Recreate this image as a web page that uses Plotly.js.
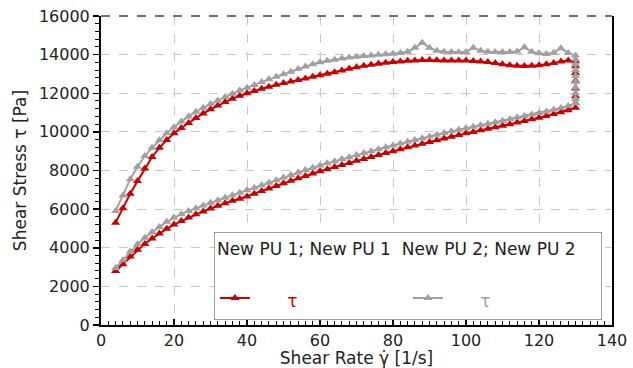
<!DOCTYPE html>
<html>
<head>
<meta charset="utf-8">
<script src="https://cdn.plot.ly/plotly-3.0.1.min.js"></script>
<style>html,body{margin:0;padding:0;background:#fff;}#chart{width:633px;height:368px;}</style>
</head>
<body>
<div id="chart"></div>
<script>
// Shear rate ramp [1/s]
const shearRate = [4,6,8,10,12,14,16,18,20,22,24,26,28,30,32,34,36,38,40,42,44,46,48,50,52,54,56,58,60,62,64,66,68,70,72,74,76,78,80,82,84,86,88,90,92,94,96,98,100,102,104,106,108,110,112,114,116,118,120,122,124,126,128,130];

// New PU 1 (red): up-ramp stress, hold at max rate, down-ramp stress (listed in shearRate order)
const pu1UpStress = [2800,3150,3550,3900,4200,4480,4740,4980,5200,5380,5560,5730,5880,6030,6170,6300,6430,6540,6660,6800,6940,7070,7200,7340,7470,7600,7720,7840,7960,8070,8180,8290,8390,8500,8600,8700,8800,8900,9000,9100,9200,9290,9380,9470,9560,9660,9750,9840,9930,10000,10080,10160,10240,10320,10400,10480,10560,10650,10730,10820,10920,11020,11120,11250];
const pu1HoldRate = [130,130,130,130,130,130];
const pu1HoldStress = [11500,11850,12250,12650,13050,13400];
const pu1DownStress = [5300,6050,6800,7450,8100,8700,9180,9580,9930,10200,10460,10720,10950,11170,11370,11550,11720,11870,12000,12120,12230,12340,12440,12530,12610,12690,12770,12850,12930,13010,13090,13180,13270,13350,13420,13480,13530,13580,13620,13650,13680,13700,13720,13720,13710,13700,13700,13700,13690,13670,13650,13620,13560,13500,13450,13420,13410,13420,13450,13500,13560,13650,13700,13660];

// New PU 2 (gray)
const pu2UpStress = [2950,3350,3800,4180,4520,4820,5080,5340,5560,5740,5900,6050,6190,6330,6460,6590,6720,6850,6980,7110,7240,7370,7500,7640,7770,7900,8020,8140,8260,8370,8480,8590,8690,8800,8900,9000,9100,9200,9300,9400,9490,9580,9670,9760,9850,9940,10030,10110,10190,10260,10340,10420,10500,10580,10660,10740,10820,10900,10980,11060,11150,11240,11340,11480];
const pu2HoldRate = [130,130,130,130,130,130,130,130];
const pu2HoldStress = [11700,12000,12300,12600,12900,13200,13500,13750];
const pu2DownStress = [5900,6700,7550,8200,8750,9180,9560,9930,10240,10540,10800,11040,11250,11440,11620,11800,11980,12140,12290,12430,12580,12720,12850,12980,13110,13250,13380,13500,13600,13680,13740,13800,13850,13890,13930,13960,13990,14020,14050,14080,14150,14350,14620,14350,14200,14150,14130,14120,14130,14350,14200,14150,14140,14130,14130,14160,14380,14150,14070,14030,14100,14330,14080,13950];

const xTickVals = [0,20,40,60,80,100,120,140];
const yTickVals = [0,2000,4000,6000,8000,10000,12000,14000,16000];

const seriesNames = ['New PU 1; New PU 1', 'New PU 2; New PU 2'];
const seriesColors = ['#cc0000', '#a0a0a0'];

function loop(up, holdRate, hold, down) {
  const x = shearRate.concat(holdRate, shearRate.slice().reverse());
  const y = up.concat(hold, down.slice().reverse());
  return {x: x, y: y};
}

const pad = '<span style="font-size:17px">\u00a0\u00a0\u00a0\u00a0\u00a0\u00a0</span>';
function legendName(c) {
  return pad + '<span style="color:' + c + ';font-size:17px">τ</span>';
}
const d1 = loop(pu1UpStress, pu1HoldRate, pu1HoldStress, pu1DownStress);
const d2 = loop(pu2UpStress, pu2HoldRate, pu2HoldStress, pu2DownStress);

const traces = [
  {x: d1.x, y: d1.y, type: 'scatter', mode: 'lines+markers',
   name: legendName(seriesColors[0]),
   line: {color: seriesColors[0], width: 2},
   marker: {symbol: 'triangle-up', size: 8, color: seriesColors[0]}},
  {x: d2.x, y: d2.y, type: 'scatter', mode: 'lines+markers',
   name: legendName(seriesColors[1]),
   line: {color: seriesColors[1], width: 2},
   marker: {symbol: 'triangle-up', size: 8, color: seriesColors[1]}}
];

const FONT = 'DejaVu Sans, Arial, sans-serif';

const layout = {
  width: 633, height: 368,
  margin: {l: 101, r: 21, t: 16, b: 43, pad: 0},
  paper_bgcolor: '#ffffff', plot_bgcolor: '#ffffff',
  font: {family: FONT, size: 16, color: '#222'},
  showlegend: true,
  legend: {
    x: 0.221, xanchor: 'left', y: 0.301, yanchor: 'top',
    orientation: 'h',
    entrywidth: 148, entrywidthmode: 'pixels',
    bgcolor: '#ffffff', bordercolor: '#a0a0a0', borderwidth: 1,
    font: {family: FONT, size: 22, color: '#222'},
    title: {text: seriesNames[0] + '\u00a0\u00a0' + seriesNames[1] + '<br>\u00a0', side: 'top', font: {family: FONT, size: 17, color: '#222'}}
  },
  xaxis: {
    range: [0, 140], tickvals: xTickVals, ticktext: xTickVals.map(String),
    showline: true, linecolor: '#000', linewidth: 2,
    ticks: 'inside', ticklen: 6, tickcolor: '#000', tickwidth: 1.5,
    minor: {dtick: 2, ticks: 'inside', ticklen: 4, tickcolor: '#000', tickwidth: 1, showgrid: false},
    showgrid: true, gridcolor: '#c8c8c8', griddash: 'dash', gridwidth: 1,
    zeroline: false, mirror: false,
    tickfont: {family: FONT, size: 16, color: '#222'},
    title: {text: 'Shear Rate γ̇ [1/s]', standoff: 0, font: {family: FONT, size: 17, color: '#222'}}
  },
  yaxis: {
    range: [0, 16000], tickvals: yTickVals, ticktext: yTickVals.map(String),
    showline: true, linecolor: '#000', linewidth: 2, mirror: true,
    ticks: 'outside', ticklen: 6, tickcolor: '#000', tickwidth: 1.5,
    minor: {dtick: 400, ticks: 'outside', ticklen: 4, tickcolor: '#000', tickwidth: 1, showgrid: false},
    showgrid: true, gridcolor: '#c8c8c8', griddash: 'dash', gridwidth: 1,
    zeroline: false,
    tickfont: {family: FONT, size: 16, color: '#222'},
    title: {text: 'Shear Stress τ [Pa]', standoff: 8, font: {family: FONT, size: 17, color: '#222'}}
  },
  shapes: [
    {type: 'line', xref: 'paper', yref: 'paper', x0: 0, x1: 1, y0: 1, y1: 1,
     line: {color: '#444', width: 1.5, dash: 'dash'}}
  ]
};

Plotly.newPlot('chart', traces, layout, {displayModeBar: false, staticPlot: true});
</script>
</body>
</html>
